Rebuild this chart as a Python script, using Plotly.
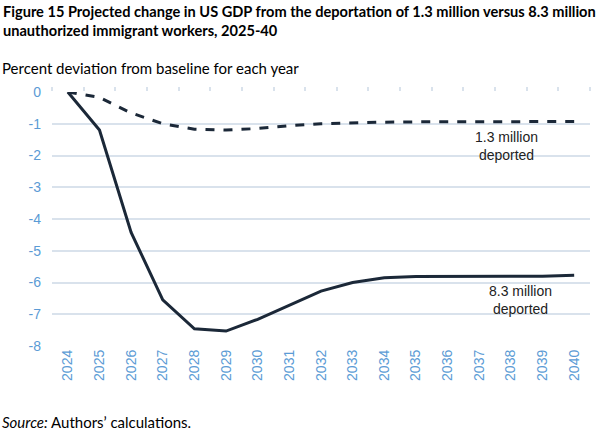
import plotly.graph_objects as go

years = list(range(2024, 2041))
year_labels = [str(y) for y in years]
dep_8_3 = [0, -1.2, -4.42, -6.55, -7.46, -7.53, -7.16, -6.72, -6.27, -6.0, -5.85, -5.81, -5.81, -5.82, -5.82, -5.8, -5.77]
dep_1_3 = [0, -0.17, -0.66, -1.0, -1.17, -1.2, -1.15, -1.06, -1.0, -0.97, -0.95, -0.94, -0.94, -0.94, -0.94, -0.94, -0.93]
y_ticks = [0, -1, -2, -3, -4, -5, -6, -7, -8]
y_tick_labels = ["0", "-1", "-2", "-3", "-4", "-5", "-6", "-7", "-8"]

line_color = "#1B2838"
tick_color = "#5B9BD5"
grid_color = "#D9E2EC"

x_range = [years[0] - 0.5, years[-1] + 0.5]
boundaries = [y - 0.5 for y in years] + [years[-1] + 0.5]

fig = go.Figure()
fig.add_trace(go.Scatter(x=years, y=dep_1_3, mode="lines",
                         line=dict(color=line_color, width=3, dash="dash"), showlegend=False))
fig.add_trace(go.Scatter(x=years, y=dep_8_3, mode="lines",
                         line=dict(color=line_color, width=3), showlegend=False))
# top axis used only for tick marks along the zero line
fig.add_trace(go.Scatter(x=[years[0]], y=[None], xaxis="x2", mode="markers",
                         showlegend=False, hoverinfo="skip"))

fig.update_layout(
    width=599, height=435,
    margin=dict(l=52, r=9, t=92, b=89),
    plot_bgcolor="white", paper_bgcolor="white",
    font=dict(family="Liberation Sans, Arial", size=14, color="#333"),
    xaxis=dict(range=x_range, tickvals=years, ticktext=year_labels, tickangle=-90,
               tickfont=dict(color=tick_color, size=14),
               showgrid=False, showline=False, ticks="", zeroline=False),
    xaxis2=dict(range=x_range, overlaying="x", side="top", showticklabels=False,
                tickvals=boundaries, ticks="outside", ticklen=4, tickcolor=grid_color, tickwidth=1.5,
                showline=False, showgrid=False, zeroline=False),
    yaxis=dict(range=[-8, 0], tickvals=y_ticks, ticktext=y_tick_labels,
               tickfont=dict(color=tick_color, size=14),
               gridcolor=grid_color, gridwidth=1.5, zeroline=False, showline=False,
               ticks="", ticklabelstandoff=10),
    annotations=[
        dict(text="<b>Figure 15 Projected change in US GDP from the deportation of 1.3 million versus 8.3 million<br>unauthorized immigrant workers, 2025-40</b>",
             xref="paper", yref="paper", x=-51/538, y=1 + 91/254, xanchor="left", yanchor="top",
             align="left", showarrow=False, font=dict(family="Lato", size=14.6, color="black")),
        dict(text="Percent deviation from baseline for each year",
             xref="paper", yref="paper", x=-52/538, y=1 + 23.5/254, xanchor="left", yanchor="middle",
             align="left", showarrow=False, font=dict(family="Lato", size=15, color="black")),
        dict(text="<i>Source:</i> Authors’ calculations.",
             xref="paper", yref="paper", x=-52/538, y=-(422-346)/254, xanchor="left", yanchor="middle",
             align="left", showarrow=False, font=dict(family="Lato", size=15, color="black")),
        dict(text="1.3 million<br>deported", x=2038, y=-1.7, xref="x", yref="y", xshift=-4,
             showarrow=False, font=dict(size=14, color="#222")),
        dict(text="8.3 million<br>deported", x=2038, y=-6.55, xref="x", yref="y", xshift=10,
             showarrow=False, font=dict(size=14, color="#222")),
    ],
)

fig.write_html("out.html")
